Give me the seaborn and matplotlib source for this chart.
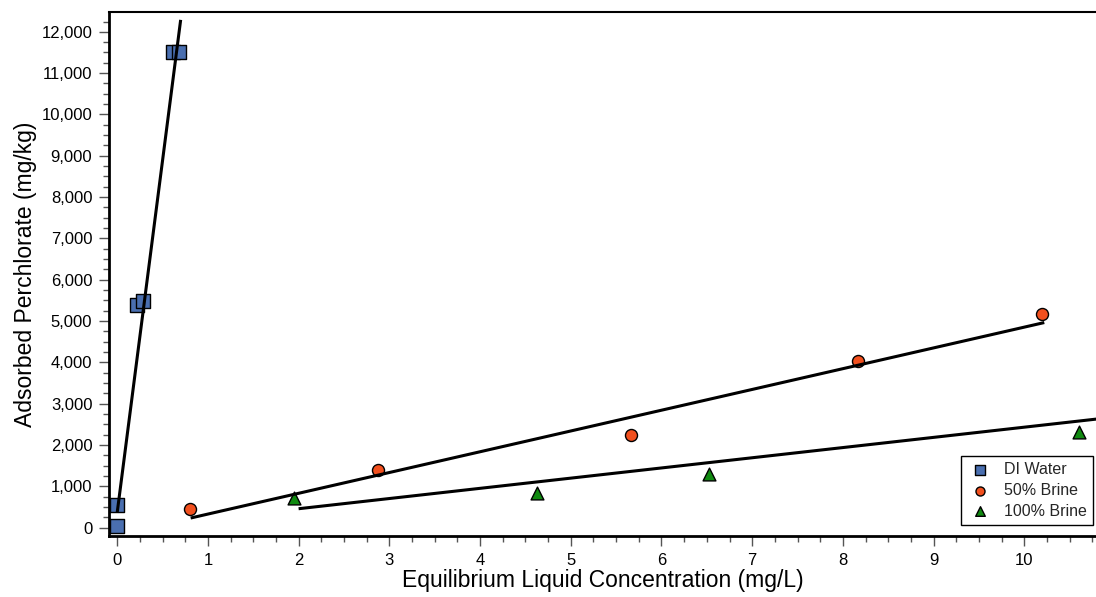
import matplotlib
matplotlib.use("Agg")
import matplotlib.pyplot as plt
from matplotlib.ticker import MultipleLocator, FuncFormatter
import seaborn as sns
import pandas as pd

sns.set_theme(style="white")
plt.rcParams['font.family'] = ['Liberation Sans', 'DejaVu Sans']

# ---- data ----
di_x = [0.0, 0.0, 0.22, 0.29, 0.62, 0.68]
di_y = [30, 560, 5400, 5480, 11500, 11520]
b50_x = [0.80, 2.88, 5.66, 8.17, 10.20]
b50_y = [460, 1385, 2250, 4045, 5175]
b100_x = [1.95, 4.63, 6.52, 10.60, 10.90]
b100_y = [730, 850, 1305, 2320, 2960]

# trend lines (end points)
di_fit_x = [0.0, 0.70]
di_fit_y = [360, 12290]
b50_fit_x = [0.81, 10.22]
b50_fit_y = [235, 4965]
b100_fit_x = [2.0, 11.0]
b100_fit_y = [460, 2680]

series = ["DI Water", "50% Brine", "100% Brine"]
colors = {"DI Water": "#4a6fb0", "50% Brine": "#f2501e", "100% Brine": "#108a10"}
markers = {"DI Water": "s", "50% Brine": "o", "100% Brine": "^"}
sizes = {"DI Water": 95, "50% Brine": 75, "100% Brine": 85}

df = pd.concat([
    pd.DataFrame({"x": di_x, "y": di_y, "s": "DI Water"}),
    pd.DataFrame({"x": b50_x, "y": b50_y, "s": "50% Brine"}),
    pd.DataFrame({"x": b100_x, "y": b100_y, "s": "100% Brine"}),
], ignore_index=True)

fig = plt.figure(figsize=(10.96, 5.97), dpi=100)
ax = fig.add_axes([109/1096, 1-536/597, 1-109/1096, (536-12)/597])

for fx, fy in [(di_fit_x, di_fit_y), (b50_fit_x, b50_fit_y), (b100_fit_x, b100_fit_y)]:
    ax.plot(fx, fy, color="black", lw=2.2, solid_capstyle="butt", zorder=3)

for name in series:
    sub = df[df["s"] == name]
    sns.scatterplot(data=sub, x="x", y="y", ax=ax, color=colors[name],
                    marker=markers[name], s=sizes[name], edgecolor="black",
                    linewidth=1.0, label=name, zorder=2)

ax.set_xlim(-0.09, 10.79)
ax.set_ylim(-200, 12480)
ax.xaxis.set_major_locator(MultipleLocator(1))
ax.xaxis.set_minor_locator(MultipleLocator(0.25))
ax.yaxis.set_major_locator(MultipleLocator(1000))
ax.yaxis.set_minor_locator(MultipleLocator(250))
ax.yaxis.set_major_formatter(FuncFormatter(lambda v, p: f"{int(v):,}"))

ax.tick_params(which="major", direction="out", length=7, width=1, color="#555555",
               labelsize=12, labelcolor="black", left=True, bottom=True, pad=5)
ax.tick_params(which="minor", direction="out", length=4, width=1, color="#555555",
               left=True, bottom=True)

for side in ["left", "bottom", "top"]:
    ax.spines[side].set_color("black")
ax.spines["left"].set_linewidth(2.0)
ax.spines["bottom"].set_linewidth(2.0)
ax.spines["top"].set_linewidth(1.5)
ax.spines["right"].set_visible(False)

ax.set_xlabel("Equilibrium Liquid Concentration (mg/L)", fontsize=16.5, color="black", labelpad=1)
ax.set_ylabel("Adsorbed Perchlorate (mg/kg)", fontsize=16.5, color="black", labelpad=3)

leg = ax.legend(loc="lower right", bbox_to_anchor=(0.997, 0.021), fontsize=11.5,
                frameon=True, fancybox=False, edgecolor="black", framealpha=1,
                borderpad=0.4, handletextpad=0.7, labelspacing=0.36,
                handlelength=1.6, markerscale=0.75, borderaxespad=0)
leg.get_frame().set_linewidth(1.0)

fig.savefig("out.png", dpi=100)
